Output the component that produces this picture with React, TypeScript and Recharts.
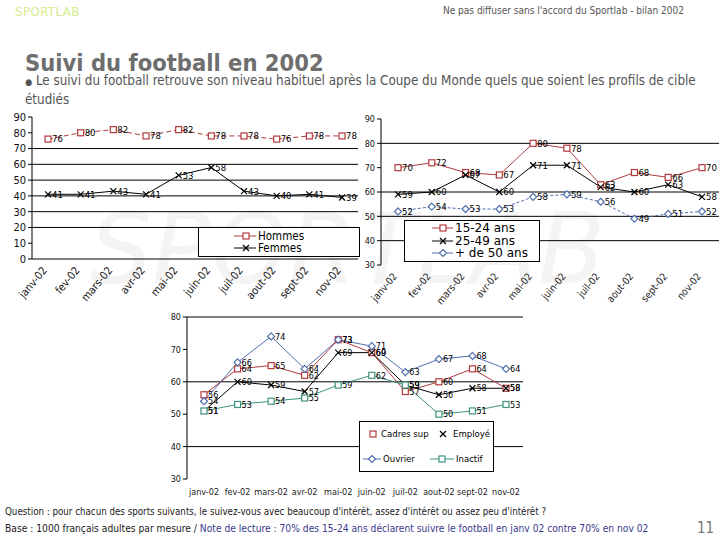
import { LineChart, Line, XAxis, YAxis, ReferenceLine, LabelList } from "recharts";

// categories, one per survey wave
const months = ["janv-02", "fev-02", "mars-02", "avr-02", "mai-02", "juin-02", "juil-02", "aout-02", "sept-02", "nov-02"];

// chart 1 : sexe
const hommes = [76, 80, 82, 78, 82, 78, 78, 76, 78, 78];
const femmes = [41, 41, 43, 41, 53, 58, 43, 40, 41, 39];

// chart 2 : age
const ans1524 = [70, 72, 68, 67, 80, 78, 63, 68, 66, 70];
const ans2549 = [59, 60, 67, 60, 71, 71, 62, 60, 63, 58];
const ans50 = [52, 54, 53, 53, 58, 59, 56, 49, 51, 52];

// chart 3 : CSP
const cadres = [56, 64, 65, 62, 73, 69, 57, 60, 64, 58];
const employe = [51, 60, 59, 57, 69, 69, 59, 56, 58, 58];
const ouvrier = [54, 66, 74, 64, 73, 71, 63, 67, 68, 64];
const inactif = [51, 53, 54, 55, 59, 62, 59, 50, 51, 53];

const ticks1 = [0, 10, 20, 30, 40, 50, 60, 70, 80, 90];
const ticks2 = [30, 40, 50, 60, 70, 80, 90];
const ticks3 = [30, 40, 50, 60, 70, 80];
const grid1 = [20, 30, 40, 50, 60, 70];
const grid2 = [40, 50, 60, 80];
const grid3 = [40, 60, 80];

const data1 = months.map((m, i) => ({ month: m, hommes: hommes[i], femmes: femmes[i] }));
const data2 = months.map((m, i) => ({ month: m, a1524: ans1524[i], a2549: ans2549[i], a50: ans50[i] }));
const data3 = months.map((m, i) => ({
  month: m, cadres: cadres[i], employe: employe[i], ouvrier: ouvrier[i], inactif: inactif[i],
}));

const FONT = "'DejaVu Sans Condensed', 'DejaVu Sans', sans-serif";
const WIDE = "'DejaVu Sans', sans-serif";
const RED = "#b23a3e";
const BLUE = "#4f6fae";
const TEAL = "#3f9480";

type Kind = "square" | "cross" | "diamond";

function Marker({ kind, x, y, color }: { kind: Kind; x: number; y: number; color: string }) {
  if (kind === "square")
    return <rect x={x - 3} y={y - 3} width={6} height={6} fill="#fff" stroke={color} strokeWidth={1.2} />;
  if (kind === "diamond")
    return (
      <polygon
        points={`${x},${y - 3.5} ${x + 3.5},${y} ${x},${y + 3.5} ${x - 3.5},${y}`}
        fill="#fff" stroke={color} strokeWidth={1.2}
      />
    );
  return (
    <g stroke={color} strokeWidth={1.2}>
      <line x1={x - 3} y1={y - 3} x2={x + 3} y2={y + 3} />
      <line x1={x - 3} y1={y + 3} x2={x + 3} y2={y - 3} />
    </g>
  );
}

const makeDot = (kind: Kind, color: string) => (p: any) =>
  <Marker key={`dot-${p.index}`} kind={kind} x={p.cx} y={p.cy} color={color} />;

const makeRotTick = (size: number) => ({ x, y, payload }: any) => (
  <g transform={`translate(${x},${y})`}>
    <text x={-3} y={2} textAnchor="end" transform="rotate(-50)" fontSize={size} fontFamily={FONT} fill="#222">
      {payload.value}
    </text>
  </g>
);
const RotTick1 = makeRotTick(11);
const RotTick2 = makeRotTick(10);

const lbl = { fontSize: 9.5, fontFamily: FONT, fill: "#000" };
const lbl3 = { fontSize: 9, fontFamily: FONT, fill: "#000" };

function App() {
  return (
    <div style={{ position: "absolute", left: 0, top: 0, width: 720, height: 540, background: "#fff", overflow: "hidden", fontFamily: FONT }}>
      {/* watermark */}
      <div style={{ position: "absolute", left: 90, top: 192, fontSize: 98, fontStyle: "italic", color: "#f4f4f4", fontFamily: WIDE }}>
        SPORTLAB
      </div>

      <div style={{ position: "absolute", left: 15, top: 4, fontSize: 13, color: "#d6ec8e", letterSpacing: 0.5 }}>SPORTLAB</div>
      <div style={{ position: "absolute", left: 443, top: 5, fontSize: 10, color: "#555" }}>
        Ne pas diffuser sans l'accord du Sportlab - bilan 2002
      </div>
      <div style={{ position: "absolute", left: 25, top: 49, fontSize: 23.5, fontWeight: "bold", color: "#6e6e6e" }}>
        Suivi du football en 2002
      </div>
      <div style={{ position: "absolute", left: 25, top: 72, width: 700, fontSize: 13.3, lineHeight: "17px", color: "#555" }}>
        <span style={{ fontSize: 9 }}>●</span> Le suivi du football retrouve son niveau habituel après la Coupe du Monde quels que soient les profils de cible étudiés
      </div>

      {/* chart 1 : Hommes / Femmes */}
      <div style={{ position: "absolute", left: 0, top: 105 }}>
        <LineChart width={362} height={200} data={data1} margin={{ top: 12, right: 4, left: 2, bottom: 0 }} style={{ overflow: "visible" }}>
          <XAxis dataKey="month" height={46} interval={0} tick={<RotTick1 />} tickLine={false}
            axisLine={{ stroke: "#000" }} padding={{ left: 16, right: 16 }} />
          <YAxis width={30} domain={[0, 90]} ticks={ticks1} interval={0} tick={{ fontSize: 11, fontFamily: FONT, fill: "#111" }}
            tickSize={4} tickMargin={2} axisLine={{ stroke: "#000" }} tickLine={{ stroke: "#000" }} />
          {grid1.map((v) => <ReferenceLine key={v} y={v} stroke="#000" />)}
          <Line dataKey="hommes" name="Hommes" stroke={RED} strokeDasharray="5 3" strokeWidth={1}
            dot={makeDot("square", RED)} isAnimationActive={false}>
            <LabelList dataKey="hommes" position="right" offset={4} {...lbl} />
          </Line>
          <Line dataKey="femmes" name="Femmes" stroke="#000" strokeWidth={1}
            dot={makeDot("cross", "#000")} isAnimationActive={false}>
            <LabelList dataKey="femmes" position="right" offset={4} {...lbl} />
          </Line>
        </LineChart>
      </div>
      <div style={{ position: "absolute", left: 198, top: 227, width: 162, height: 30, border: "1px solid #000", boxSizing: "border-box", background: "#fff" }}>
        <svg width={160} height={28} style={{ position: "absolute", left: 0, top: 0 }}>
          <line x1={35} x2={57} y1={8} y2={8} stroke={RED} />
          <Marker kind="square" x={47} y={8} color={RED} />
          <text x={59} y={8} dy="0.35em" fontSize={11.5} fontFamily={FONT}>Hommes</text>
          <line x1={35} x2={57} y1={20} y2={20} stroke="#000" />
          <Marker kind="cross" x={47} y={20} color="#000" />
          <text x={59} y={20} dy="0.35em" fontSize={11.5} fontFamily={FONT}>Femmes</text>
        </svg>
      </div>

      {/* chart 2 : age */}
      <div style={{ position: "absolute", left: 355, top: 105 }}>
        <LineChart width={365} height={200} data={data2} margin={{ top: 14, right: 1, left: 0, bottom: 0 }}>
          <XAxis dataKey="month" height={40} interval={0} tick={<RotTick2 />} tickLine={false} axisLine={false}
            padding={{ left: 17, right: 17 }} />
          <YAxis width={26} domain={[30, 90]} ticks={ticks2} interval={0} tick={{ fontSize: 9, fontFamily: FONT, fill: "#111" }}
            tickSize={4} tickMargin={2} axisLine={{ stroke: "#000" }} tickLine={{ stroke: "#000" }} />
          {grid2.map((v) => <ReferenceLine key={v} y={v} stroke="#000" />)}
          <Line dataKey="a1524" name="15-24 ans" stroke={RED} strokeWidth={1}
            dot={makeDot("square", RED)} isAnimationActive={false}>
            <LabelList dataKey="a1524" position="right" offset={4} {...lbl} />
          </Line>
          <Line dataKey="a2549" name="25-49 ans" stroke="#000" strokeWidth={1}
            dot={makeDot("cross", "#000")} isAnimationActive={false}>
            <LabelList dataKey="a2549" position="right" offset={4} {...lbl} />
          </Line>
          <Line dataKey="a50" name="+ de 50 ans" stroke={BLUE} strokeWidth={1} strokeDasharray="3 2"
            dot={makeDot("diamond", BLUE)} isAnimationActive={false}>
            <LabelList dataKey="a50" position="right" offset={4} {...lbl} />
          </Line>
        </LineChart>
      </div>
      <div style={{ position: "absolute", left: 404, top: 220, width: 136, height: 42, border: "1px solid #000", boxSizing: "border-box", background: "#fff" }}>
        <svg width={134} height={40} style={{ position: "absolute", left: 0, top: 0 }}>
          <line x1={27} x2={48} y1={7} y2={7} stroke={RED} />
          <Marker kind="square" x={38} y={7} color={RED} />
          <text x={50} y={7} dy="0.35em" fontSize={12} fontFamily={WIDE}>15-24 ans</text>
          <line x1={27} x2={48} y1={20} y2={20} stroke="#000" />
          <Marker kind="cross" x={38} y={20} color="#000" />
          <text x={50} y={20} dy="0.35em" fontSize={12} fontFamily={WIDE}>25-49 ans</text>
          <line x1={27} x2={48} y1={32} y2={32} stroke={BLUE} />
          <Marker kind="diamond" x={38} y={32} color={BLUE} />
          <text x={50} y={32} dy="0.35em" fontSize={12} fontFamily={WIDE}>+ de 50 ans</text>
        </svg>
      </div>

      {/* chart 3 : CSP */}
      <div style={{ position: "absolute", left: 160, top: 305 }}>
        <LineChart width={392} height={195} data={data3} margin={{ top: 12, right: 29, left: 0, bottom: 0 }}>
          <XAxis dataKey="month" height={21} interval={0} tick={{ fontSize: 9, fontFamily: FONT, fill: "#222" }}
            tickLine={false} axisLine={false} tickMargin={4} padding={{ left: 17, right: 17 }} />
          <YAxis width={27} domain={[30, 80]} ticks={ticks3} interval={0} tick={{ fontSize: 9, fontFamily: FONT, fill: "#111" }}
            tickSize={4} tickMargin={2} axisLine={{ stroke: "#000" }} tickLine={{ stroke: "#000" }} />
          {grid3.map((v) => <ReferenceLine key={v} y={v} stroke="#000" />)}
          <Line dataKey="cadres" name="Cadres sup" stroke={RED} strokeWidth={1}
            dot={makeDot("square", RED)} isAnimationActive={false}>
            <LabelList dataKey="cadres" position="right" offset={4} {...lbl3} />
          </Line>
          <Line dataKey="employe" name="Employé" stroke="#000" strokeWidth={1}
            dot={makeDot("cross", "#000")} isAnimationActive={false}>
            <LabelList dataKey="employe" position="right" offset={4} {...lbl3} />
          </Line>
          <Line dataKey="ouvrier" name="Ouvrier" stroke={BLUE} strokeWidth={1}
            dot={makeDot("diamond", BLUE)} isAnimationActive={false}>
            <LabelList dataKey="ouvrier" position="right" offset={4} {...lbl3} />
          </Line>
          <Line dataKey="inactif" name="Inactif" stroke={TEAL} strokeWidth={1}
            dot={makeDot("square", TEAL)} isAnimationActive={false}>
            <LabelList dataKey="inactif" position="right" offset={4} {...lbl3} />
          </Line>
        </LineChart>
      </div>
      <div style={{ position: "absolute", left: 359, top: 421, width: 135, height: 51, border: "1px solid #000", boxSizing: "border-box", background: "#fff" }}>
        <svg width={133} height={49} style={{ position: "absolute", left: 0, top: 0 }}>
          <Marker kind="square" x={13} y={12} color={RED} />
          <text x={21} y={12} dy="0.35em" fontSize={9.5} fontFamily={FONT}>Cadres sup</text>
          <Marker kind="cross" x={83} y={12} color="#000" />
          <text x={93} y={12} dy="0.35em" fontSize={9.5} fontFamily={FONT}>Employé</text>
          <line x1={3} x2={21} y1={37} y2={37} stroke={BLUE} />
          <Marker kind="diamond" x={12} y={37} color={BLUE} />
          <text x={23} y={37} dy="0.35em" fontSize={9.5} fontFamily={FONT}>Ouvrier</text>
          <line x1={70} x2={94} y1={37} y2={37} stroke={TEAL} />
          <Marker kind="square" x={82} y={37} color={TEAL} />
          <text x={96} y={37} dy="0.35em" fontSize={9.5} fontFamily={FONT}>Inactif</text>
        </svg>
      </div>

      {/* footer */}
      <div style={{ position: "absolute", left: 5, top: 506, fontSize: 9.7, color: "#222" }}>
        Question : pour chacun des sports suivants, le suivez-vous avec beaucoup d'intérêt, assez d'intérêt ou assez peu d'intérêt ?
      </div>
      <div style={{ position: "absolute", left: 5, top: 523, fontSize: 10.2, color: "#222" }}>
        Base : 1000 français adultes par mesure / <span style={{ color: "#3a3a8c" }}>Note de lecture : 70% des 15-24 ans déclarent suivre le football en janv 02 contre 70% en nov 02</span>
      </div>
      <div style={{ position: "absolute", left: 697, top: 519, fontSize: 15, color: "#777" }}>11</div>
    </div>
  );
}

export default App;
